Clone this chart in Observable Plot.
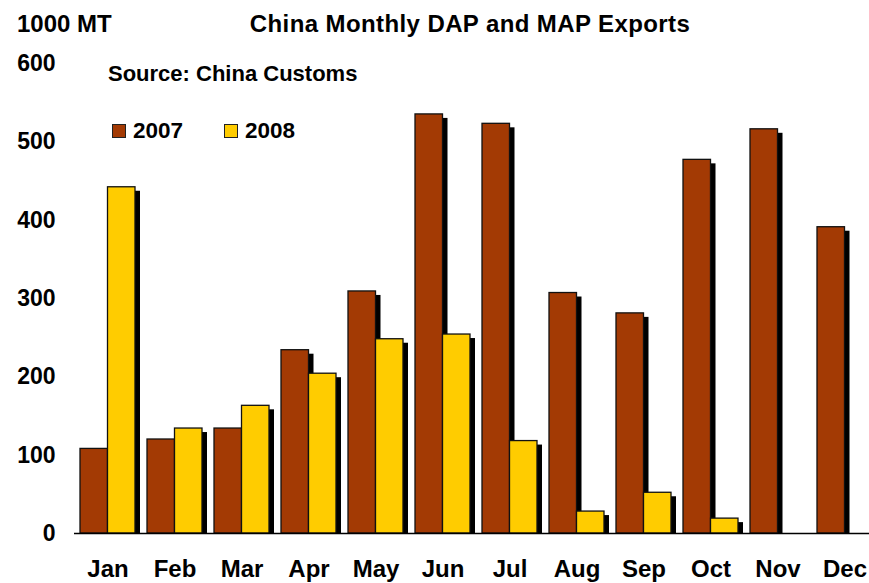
<!DOCTYPE html>
<html>
<head>
<meta charset="utf-8">
<script src="https://cdn.jsdelivr.net/npm/d3@7"></script>
<script src="https://cdn.jsdelivr.net/npm/@observablehq/plot@0.6"></script>
<style>
  html, body { margin: 0; padding: 0; background: #fff; }
  #wrap { position: relative; width: 869px; height: 583px; font-family: "Liberation Sans", Arial, sans-serif; font-weight: bold; color: #000; }
  .t { position: absolute; font-size: 22px; line-height: 1; white-space: nowrap; }
  .sq { position: absolute; width: 12px; height: 12px; border: 1px solid #222; }
</style>
</head>
<body>
<div id="wrap"></div>
<script>
const months = ["Jan","Feb","Mar","Apr","May","Jun","Jul","Aug","Sep","Oct","Nov","Dec"];
const exports2007 = [108, 120, 134, 234, 309, 535, 523, 307, 281, 477, 516, 391];
const exports2008 = [442, 134, 163, 204, 248, 254, 118, 28, 52, 19, null, null];
const yTicks = [0, 100, 200, 300, 400, 500, 600];
const seriesNames = ["2007", "2008"];
const colors = ["#A33A04", "#FFCC00"];

const rows07 = months.map((m, i) => ({month: m, value: exports2007[i]}));
const rows08 = months.map((m, i) => ({month: m, value: exports2008[i]})).filter(d => d.value != null);

const half = 27.5;

const chart = Plot.plot({
  width: 869,
  height: 583,
  marginLeft: 74,
  marginRight: 0,
  marginTop: 63,
  marginBottom: 50,
  style: {fontFamily: "'Liberation Sans', Arial, sans-serif", fontWeight: "bold", fontSize: "24px", background: "white", color: "#000"},
  x: {domain: months, range: [74, 877], paddingInner: 0.18, paddingOuter: 0.08, label: null, tickSize: 0, tickPadding: 26},
  y: {domain: [0, 600], ticks: yTicks, label: null, tickSize: 0, tickPadding: 19},
  marks: [
    Plot.barY(rows07, {x: "month", y: "value", insetRight: half, dx: 5, insetTop: 4, fill: "#000"}),
    Plot.barY(rows07, {x: "month", y: "value", insetRight: half, fill: colors[0], stroke: "#111", strokeWidth: 1.3}),
    Plot.barY(rows08, {x: "month", y: "value", insetLeft: half, dx: 5, insetTop: 4, fill: "#000"}),
    Plot.barY(rows08, {x: "month", y: "value", insetLeft: half, fill: colors[1], stroke: "#111", strokeWidth: 1.3}),
    Plot.ruleY([0], {stroke: "#000", strokeWidth: 1.3})
  ]
});

d3.select(chart).selectAll('g[aria-label="y-axis tick label"], g[aria-label="y-axis"]').attr("font-size", 23);

const wrap = document.getElementById("wrap");
wrap.appendChild(chart);

function addText(txt, left, top, extra) {
  const el = document.createElement("div");
  el.className = "t";
  el.textContent = txt;
  el.style.left = left + "px";
  el.style.top = top + "px";
  if (extra) Object.assign(el.style, extra);
  wrap.appendChild(el);
  return el;
}
addText("1000 MT", 17, 11.7, {fontSize: "24px"});
addText("China Monthly DAP and MAP Exports", 470, 11.7, {fontSize: "24px", letterSpacing: "0.4px", transform: "translateX(-50%)"});
addText("Source: China Customs", 108, 63.1, {fontSize: "22px"});

const legendX = [112, 224];
seriesNames.forEach((name, i) => {
  const sq = document.createElement("div");
  sq.className = "sq";
  sq.style.left = legendX[i] + "px";
  sq.style.top = "124px";
  sq.style.background = colors[i];
  wrap.appendChild(sq);
  addText(name, legendX[i] + 21, 119.6, {fontSize: "22.5px"});
});
</script>
</body>
</html>
